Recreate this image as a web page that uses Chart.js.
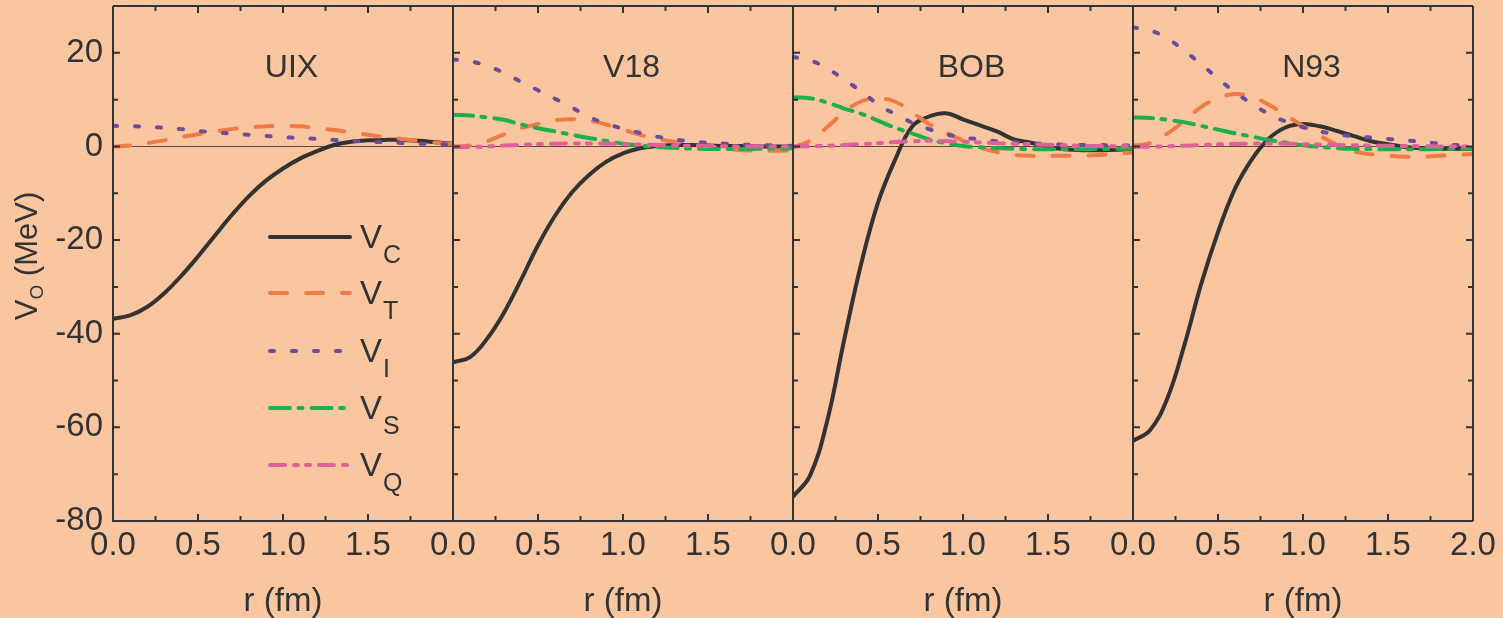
<!DOCTYPE html>
<html lang="en">
<head>
<meta charset="UTF-8">
<title>Potential components</title>
<script src="https://cdn.jsdelivr.net/npm/chart.js"></script>
<style>
  body { margin: 0; background: #FAC6A0; }
  #wrap { position: relative; width: 1503px; height: 618px; overflow: hidden; }
  canvas { position: absolute; top: 0; }
</style>
</head>
<body>
<div id="wrap">
  <canvas id="c0" width="493" height="618" style="left:0px"></canvas>
  <canvas id="c1" width="420" height="618" style="left:413px"></canvas>
  <canvas id="c2" width="420" height="618" style="left:753px"></canvas>
  <canvas id="c3" width="410" height="618" style="left:1093px"></canvas>
</div>
<script>
// r grid (fm)
const r = [0, 0.1, 0.2, 0.3, 0.4, 0.5, 0.6, 0.7, 0.8, 0.9, 1.0, 1.1, 1.2, 1.3, 1.4, 1.5, 1.6, 1.7, 1.8, 1.9, 2.0];

// UIX
const uixC = [-36.8, -36.1, -34.3, -31.4, -27.7, -23.5, -19.0, -14.6, -10.6, -7.3, -4.7, -2.6, -1.0, 0.3, 1.0, 1.3, 1.4, 1.4, 1.2, 0.9, 0.6];
const uixT = [0, 0.2, 0.7, 1.3, 2.0, 2.6, 3.2, 3.7, 4.1, 4.3, 4.4, 4.3, 3.9, 3.5, 3.0, 2.5, 2.0, 1.6, 1.2, 0.8, 0.5];
const uixI = [4.4, 4.35, 4.2, 4.0, 3.7, 3.3, 3.0, 2.75, 2.5, 2.25, 2.0, 1.8, 1.6, 1.4, 1.2, 1.05, 0.9, 0.75, 0.6, 0.5, 0.4];

// V18
const v18C = [-46.1, -45.0, -41.1, -35.5, -28.5, -21.1, -14.8, -9.8, -6.1, -3.3, -1.5, -0.4, 0.1, 0.3, 0.3, 0.2, 0.1, 0.1, 0, 0, 0];
const v18T = [0, 0.2, 1.1, 2.6, 3.9, 4.8, 5.6, 5.8, 5.5, 4.7, 3.6, 2.5, 1.6, 1.0, 0.4, 0.0, -0.4, -0.8, -0.9, -0.9, -0.8];
const v18I = [18.6, 18.2, 17.2, 15.7, 13.8, 12.0, 10.2, 8.3, 6.3, 4.9, 3.8, 2.9, 2.1, 1.5, 1.1, 0.8, 0.6, 0.4, 0.3, 0.2, 0.1];
const v18S = [6.75, 6.6, 6.2, 5.7, 4.7, 3.9, 3.2, 2.5, 1.8, 1.2, 0.6, 0.2, -0.1, -0.3, -0.45, -0.55, -0.55, -0.55, -0.5, -0.45, -0.4];
const v18Q = [-0.1, -0.1, 0, 0.2, 0.35, 0.5, 0.6, 0.65, 0.65, 0.6, 0.5, 0.4, 0.3, 0.2, 0.15, 0.1, 0.05, 0, 0, 0, 0];

// BOB
const bobC = [-74.8, -70.3, -58.8, -41.5, -25.2, -12.0, -2.9, 4.2, 6.4, 7.1, 5.8, 4.5, 3.2, 1.5, 0.8, -0.1, -0.6, -0.8, -0.8, -0.7, -0.6];
const bobT = [-0.2, 1.2, 4.1, 7.3, 9.6, 10.2, 9.6, 7.3, 4.8, 3.0, 1.2, -0.2, -1.2, -1.8, -2.0, -2.0, -2.0, -2.0, -1.8, -1.6, -1.3];
const bobI = [19.1, 18.4, 16.7, 14.3, 11.8, 9.0, 6.9, 5.1, 3.7, 2.6, 1.9, 1.5, 1.1, 0.9, 0.7, 0.5, 0.4, 0.3, 0.3, 0.2, 0.2];
const bobS = [10.5, 10.3, 9.4, 8.1, 7.0, 5.5, 4.0, 2.8, 1.5, 0.7, 0.1, -0.15, -0.35, -0.5, -0.6, -0.6, -0.6, -0.6, -0.55, -0.5, -0.5];
const bobQ = [0, 0.05, 0.15, 0.3, 0.5, 0.7, 0.95, 1.1, 1.2, 1.15, 1.0, 0.85, 0.7, 0.6, 0.5, 0.35, 0.25, 0.15, 0.1, 0.05, 0];

// N93
const n93C = [-62.9, -60.6, -54.0, -42.7, -29.5, -18.3, -9.0, -2.7, 1.7, 4.1, 4.8, 4.3, 3.3, 2.2, 1.1, 0.5, -0.1, -0.4, -0.5, -0.5, -0.5];
const n93T = [0.2, 0.7, 2.7, 5.4, 8.4, 10.3, 11.2, 10.6, 8.9, 6.6, 4.4, 2.3, 0.3, -1.1, -1.65, -2.0, -2.2, -2.2, -2.0, -1.8, -1.6];
const n93I = [25.4, 24.8, 23.1, 20.5, 17.6, 14.5, 11.6, 9.1, 6.9, 5.3, 4.1, 3.2, 2.6, 2.15, 1.9, 1.6, 1.3, 1.0, 0.6, 0.3, 0.2];
const n93S = [6.2, 6.1, 5.7, 5.2, 4.4, 3.6, 2.8, 2.1, 1.4, 0.8, 0.25, -0.1, -0.35, -0.5, -0.55, -0.6, -0.6, -0.6, -0.55, -0.5, -0.45];
const n93Q = [-0.1, -0.05, 0.05, 0.15, 0.3, 0.45, 0.55, 0.6, 0.65, 0.6, 0.5, 0.4, 0.3, 0.25, 0.2, 0.15, 0.1, 0.05, 0, 0, 0];

const panelNames = ['UIX', 'V18', 'BOB', 'N93'];
const panelSeries = [
  { C: uixC, T: uixT, I: uixI },
  { C: v18C, T: v18T, I: v18I, S: v18S, Q: v18Q },
  { C: bobC, T: bobT, I: bobI, S: bobS, Q: bobQ },
  { C: n93C, T: n93T, I: n93I, S: n93S, Q: n93Q }
];
const legendKeys = ['C', 'T', 'I', 'S', 'Q'];

const FONT = "'Liberation Sans', Arial, Helvetica, sans-serif";
const INK = '#333333';
const styles = {
  C: { color: '#333333', dash: [], order: 5 },
  T: { color: '#F07A48', dash: [17, 19], order: 4 },
  I: { color: '#6A4E9B', dash: [4, 18], order: 3 },
  S: { color: '#1FAE4E', dash: [20, 8.5, 4, 9], order: 2 },
  Q: { color: '#E0609B', dash: [15, 9, 4, 8, 4, 9], order: 1 }
};

Chart.defaults.font.family = FONT;
Chart.defaults.color = INK;

const framePlugin = {
  id: 'frame',
  beforeDatasetsDraw(chart) {
    const { ctx, chartArea: a, scales: { y } } = chart;
    const y0 = Math.round(y.getPixelForValue(0)) + 0.5;
    ctx.save();
    ctx.strokeStyle = 'rgba(45,45,45,0.8)';
    ctx.lineWidth = 1;
    ctx.beginPath();
    ctx.moveTo(a.left, y0);
    ctx.lineTo(a.right, y0);
    ctx.stroke();
    ctx.restore();
  },
  afterDatasetsDraw(chart, args, opts) {
    const { ctx, chartArea: a, scales: { x, y } } = chart;
    ctx.save();
    ctx.strokeStyle = INK;
    ctx.lineWidth = 2;
    ctx.beginPath();
    ctx.moveTo(a.left, a.top);
    ctx.lineTo(a.left, a.bottom);
    ctx.lineTo(a.right, a.bottom);
    ctx.moveTo(a.left, a.top);
    ctx.lineTo(a.right, a.top);
    if (opts.last) {
      ctx.moveTo(a.right, a.top);
      ctx.lineTo(a.right, a.bottom);
    }
    ctx.stroke();

    // inward ticks
    ctx.beginPath();
    for (let i = 0; i <= 8; i++) {
      const v = i * 0.25;
      const px = x.getPixelForValue(v);
      const len = i % 2 === 0 ? 7 : 5;
      ctx.moveTo(px, a.bottom);
      ctx.lineTo(px, a.bottom - len);
      ctx.moveTo(px, a.top);
      ctx.lineTo(px, a.top + len);
    }
    for (let v = -80; v <= 20; v += 10) {
      const py = y.getPixelForValue(v);
      const len = v % 20 === 0 ? 7 : 5;
      ctx.moveTo(a.left, py);
      ctx.lineTo(a.left + len, py);
      if (opts.last) {
        ctx.moveTo(a.right, py);
        ctx.lineTo(a.right - len, py);
      }
    }
    ctx.stroke();

    // panel name
    ctx.fillStyle = INK;
    ctx.font = '32px ' + FONT;
    ctx.textAlign = 'center';
    ctx.textBaseline = 'alphabetic';
    ctx.fillText(opts.title, x.getPixelForValue(1.05), 77);

    if (opts.legend) {
      const rows = [237, 293, 351, 408, 465];
      legendKeys.forEach((k, i) => {
        const st = styles[k];
        const ly = rows[i];
        ctx.strokeStyle = st.color;
        ctx.lineWidth = 4;
        ctx.lineCap = 'round';
        ctx.setLineDash(st.dash);
        ctx.beginPath();
        ctx.moveTo(270, ly);
        ctx.lineTo(350, ly);
        ctx.stroke();
        ctx.setLineDash([]);
        ctx.fillStyle = INK;
        ctx.textAlign = 'left';
        ctx.font = '33px ' + FONT;
        ctx.fillText('V', 360, ly + 11);
        ctx.font = '25px ' + FONT;
        ctx.fillText(k, 383, ly + 26);
      });
    }

    if (opts.yTitle) {
      ctx.translate(37, 256);
      ctx.rotate(-Math.PI / 2);
      ctx.fillStyle = INK;
      ctx.textAlign = 'left';
      ctx.font = '31px ' + FONT;
      const wV = ctx.measureText('V').width;
      const rest = ' (MeV)';
      const wR = ctx.measureText(rest).width;
      ctx.font = '19px ' + FONT;
      const wO = ctx.measureText('O').width;
      let sx = -(wV + wO + wR) / 2;
      ctx.font = '31px ' + FONT;
      ctx.fillText('V', sx, 0);
      sx += wV;
      ctx.font = '19px ' + FONT;
      ctx.fillText('O', sx, 6);
      sx += wO;
      ctx.font = '31px ' + FONT;
      ctx.fillText(rest, sx, 0);
    }
    ctx.restore();
  }
};

function makePanel(idx) {
  const first = idx === 0;
  const last = idx === 3;
  const series = panelSeries[idx];
  const datasets = Object.keys(series).map(k => ({
    label: 'V' + k,
    data: r.map((rv, i) => ({ x: rv, y: series[k][i] })),
    borderColor: styles[k].color,
    borderDash: styles[k].dash,
    borderWidth: 4,
    borderCapStyle: 'round',
    borderJoinStyle: 'round',
    pointRadius: 0,
    fill: false,
    tension: 0.4,
    order: styles[k].order
  }));

  const width = document.getElementById('c' + idx).width;
  return new Chart(document.getElementById('c' + idx), {
    type: 'line',
    data: { datasets },
    options: {
      responsive: false,
      animation: false,
      devicePixelRatio: 1,
      layout: {
        padding: { top: 6, bottom: 0, left: first ? 0 : 40, right: first ? 40 : width - 380 }
      },
      plugins: {
        legend: { display: false },
        tooltip: { enabled: false },
        frame: { title: panelNames[idx], legend: first, yTitle: first, last }
      },
      scales: {
        x: {
          type: 'linear',
          min: 0,
          max: 2,
          grid: { display: false, drawTicks: false },
          border: { display: false },
          ticks: {
            stepSize: 0.5,
            maxRotation: 0,
            autoSkip: false,
            padding: 5,
            font: { size: 33 },
            color: INK,
            callback: v => (v === 2 && !last) ? '' : Number(v).toFixed(1)
          },
          title: {
            display: true,
            text: 'r (fm)',
            font: { size: 33, lineHeight: 1 },
            color: INK,
            padding: { top: 0, bottom: 0 }
          },
          afterFit: s => { s.height = 97; s.paddingLeft = 0; s.paddingRight = 0; }
        },
        y: {
          display: first,
          min: -80,
          max: 30,
          grid: { display: false, drawTicks: false },
          border: { display: false },
          ticks: {
            stepSize: 20,
            padding: 10,
            font: { size: 33 },
            color: INK,
            callback: v => (v % 20 === 0 ? String(v) : '')
          },
          afterFit: s => { s.width = first ? 113 : 0; s.paddingTop = 0; s.paddingBottom = 0; }
        }
      }
    },
    plugins: [framePlugin]
  });
}

[0, 1, 2, 3].forEach(makePanel);
</script>
</body>
</html>
